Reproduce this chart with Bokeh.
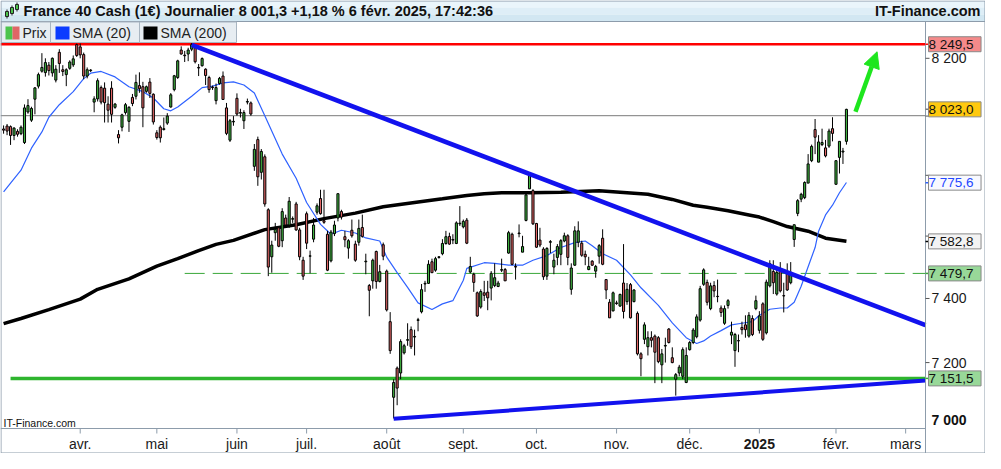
import math
import pandas as pd
from bokeh.plotting import figure
from bokeh.models import (Range1d, Label, BoxAnnotation, Arrow, NormalHead, ColumnDataSource)
from bokeh.embed import file_html
from bokeh.resources import INLINE

# ---------------------------------------------------------------- data
first_day = "2024-02-29"
last_day = "2025-02-06"
closed_days = ["2024-12-25", "2024-12-26", "2025-01-01"]

opens = [7956, 7966, 7964, 7934, 7948, 7940, 7910, 8014, 7986, 8058,
         8103, 8155, 8150, 8176, 8149, 8124, 8221, 8160, 8143, 8165,
         8177, 8248, 8240, 8213, 8138, 8157, 8048, 8059, 8098, 8096,
         8041, 8096, 8030, 7937, 7962, 8012, 7982, 8064, 8068, 8105,
         8101, 8085, 8117, 8075, 7943, 7962, 7954, 7976, 8031, 8091,
         8133, 8229, 8211, 8215, 8232, 8237, 8168, 8174, 8162, 8133,
         8100, 8053, 8112, 8138, 8028, 7918, 7980,
         8061, 8010, 7984, 8048, 8045,
         7830, 7920, 7810, 7862, 7686, 7533, 7611, 7627, 7585, 7659,
         7636, 7655, 7705, 7620, 7522, 7673, 7535, 7590, 7678, 7723,
         7650, 7606, 7520, 7608, 7659, 7680, 7598, 7561, 7619, 7574,
         7580, 7628, 7517, 7441, 7456, 7550, 7454, 7572, 7487, 7327,
         7094, 7183, 7168, 7230, 7269, 7302, 7279, 7331, 7358, 7446,
         7448, 7517, 7490, 7531, 7543, 7576, 7599, 7587, 7576, 7640,
         7630, 7652,
         7484, 7477, 7418, 7373, 7418, 7420, 7433, 7441, 7438, 7490,
         7492, 7545, 7606, 7502, 7608, 7548, 7651, 7755, 7749, 7641,
         7587, 7558, 7471, 7580, 7500, 7531, 7541, 7584, 7601, 7429,
         7506, 7580, 7577, 7541, 7492, 7519, 7487, 7535, 7593, 7460,
         7388, 7361, 7384, 7376, 7449, 7390, 7444, 7390, 7353, 7227,
         7272, 7249, 7277, 7282, 7277, 7193, 7251, 7304, 7215, 7149,
         7168, 7158, 7139, 7240, 7262, 7280,
         7332, 7445, 7451, 7368, 7441, 7407, 7370, 7322, 7378, 7285,
         7237, 7267, 7309, 7317, 7282, 7337, 7368, 7300, 7383, 7292,
         7440, 7486, 7414, 7491, 7409, 7483, 7450, 7589, 7674, 7721,
         7726, 7774, 7849, 7954, 7844, 7903, 7892, 7898, 7957, 7770,
         7860, 7878, 7914]
highs = [7968, 7973, 7968, 7962, 7955, 7968, 8040, 8058, 8032, 8100,
         8150, 8218, 8200, 8187, 8203, 8176, 8232, 8176, 8165, 8193,
         8210, 8252, 8252, 8220, 8168, 8162, 8068, 8130, 8105, 8116,
         8068, 8120, 8045, 7952, 8008, 8045, 8034, 8076, 8143, 8151,
         8118, 8105, 8131, 8078, 7952, 7968, 7995, 8010, 8079, 8142,
         8195, 8242, 8226, 8237, 8258, 8240, 8180, 8203, 8165, 8139,
         8105, 8112, 8135, 8154, 8045, 7990, 8000,
         8078, 8025, 8020, 8060, 8050,
         7905, 7930, 7888, 7870, 7691, 7585, 7643, 7632, 7691, 7670,
         7728, 7664, 7712, 7627, 7533, 7680, 7553, 7659, 7707, 7752,
         7752, 7617, 7620, 7650, 7739, 7686, 7617, 7590, 7654, 7585,
         7654, 7670, 7543, 7446, 7527, 7553, 7507, 7579, 7492, 7357,
         7149, 7188, 7272, 7258, 7322, 7312, 7302, 7339, 7446, 7456,
         7522, 7527, 7533, 7535, 7590, 7617, 7611, 7606, 7648, 7698,
         7654, 7659,
         7533, 7482, 7422, 7429, 7456, 7456, 7487, 7512, 7456, 7527,
         7497, 7617, 7611, 7512, 7638, 7601, 7739, 7808, 7754, 7643,
         7627, 7564, 7564, 7587, 7543, 7574, 7590, 7611, 7606, 7512,
         7632, 7648, 7585, 7553, 7533, 7522, 7507, 7574, 7622, 7460,
         7398, 7422, 7393, 7415, 7574, 7449, 7449, 7429, 7359, 7232,
         7325, 7297, 7297, 7287, 7282, 7242, 7277, 7307, 7247, 7168,
         7193, 7247, 7247, 7267, 7307, 7350,
         7440, 7496, 7460, 7450, 7455, 7460, 7378, 7378, 7398, 7327,
         7292, 7287, 7327, 7347, 7357, 7347, 7409, 7360, 7388, 7460,
         7522, 7522, 7491, 7516, 7450, 7512, 7516, 7637, 7721, 7742,
         7780, 7871, 7903, 7990, 7935, 7957, 7919, 7957, 7996, 7849,
         7914, 7892, 8025]
lows = [7940, 7935, 7902, 7918, 7930, 7935, 7905, 8008, 7980, 8006,
        8095, 8150, 8136, 8140, 8136, 8116, 8149, 8138, 8103, 8160,
        8170, 8205, 8200, 8127, 8130, 8152, 8013, 8050, 8040, 7978,
        7978, 7978, 8025, 7907, 7948, 8005, 7946, 8034, 8057, 8080,
        7962, 8080, 8062, 7971, 7920, 7910, 7951, 7970, 8029, 8085,
        8128, 8213, 8187, 8190, 8225, 8182, 8138, 8171, 8107, 8080,
        8090, 8040, 8108, 8056, 7935, 7912, 7967,
        8001, 7995, 7956, 8040, 8001,
        7815, 7765, 7786, 7696, 7471, 7482, 7585, 7564, 7564, 7627,
        7627, 7643, 7617, 7522, 7459, 7558, 7480, 7580, 7670, 7670,
        7640, 7487, 7515, 7600, 7648, 7654, 7564, 7527, 7595, 7517,
        7569, 7595, 7477, 7344, 7431, 7431, 7451, 7522, 7359, 7227,
        7030, 7070, 7149, 7225, 7252, 7242, 7222, 7297, 7353, 7421,
        7446, 7482, 7485, 7527, 7538, 7572, 7572, 7574, 7574, 7633,
        7625, 7574,
        7480, 7421, 7342, 7368, 7392, 7363, 7394, 7436, 7436, 7484,
        7456, 7543, 7506, 7460, 7596, 7548, 7648, 7755, 7636, 7562,
        7564, 7459, 7459, 7545, 7477, 7506, 7506, 7580, 7506, 7412,
        7504, 7564, 7533, 7506, 7490, 7504, 7466, 7511, 7506, 7398,
        7339, 7359, 7380, 7374, 7337, 7380, 7337, 7388, 7222, 7158,
        7257, 7222, 7247, 7137, 7198, 7137, 7200, 7259, 7198, 7099,
        7158, 7149, 7137, 7237, 7257, 7275,
        7327, 7440, 7378, 7363, 7404, 7388, 7342, 7317, 7368, 7257,
        7187, 7232, 7287, 7277, 7277, 7282, 7363, 7290, 7267, 7287,
        7435, 7414, 7409, 7419, 7356, 7424, 7445, 7565, 7665, 7711,
        7721, 7774, 7844, 7871, 7844, 7898, 7860, 7892, 7914, 7770,
        7806, 7838, 7903]
closes = [7952, 7949, 7934, 7959, 7938, 7962, 8028, 8036, 8026, 8097,
          8143, 8168, 8185, 8157, 8200, 8162, 8182, 8154, 8160, 8187,
          8198, 8210, 8212, 8138, 8160, 8159, 8059, 8122, 8048, 8046,
          8020, 8006, 8041, 7926, 8004, 8039, 8030, 8043, 8116, 8094,
          8028, 8101, 8078, 7980, 7927, 7926, 7957, 8000, 8073, 8139,
          8191, 8215, 8209, 8229, 8248, 8188, 8166, 8199, 8140, 8091,
          8098, 8098, 8130, 8057, 7941, 7984, 7982,
          8007, 8012, 8012, 8050, 8007,
          7887, 7795, 7880, 7705, 7500, 7571, 7622, 7567, 7680, 7636,
          7714, 7657, 7620, 7533, 7471, 7577, 7536, 7636, 7699, 7673,
          7645, 7490, 7613, 7636, 7739, 7662, 7588, 7585, 7601, 7522,
          7625, 7599, 7519, 7426, 7522, 7454, 7485, 7535, 7364, 7237,
          7139, 7122, 7265, 7252, 7271, 7249, 7281, 7333, 7428, 7448,
          7509, 7482, 7527, 7533, 7576, 7598, 7574, 7589, 7643, 7642,
          7648, 7577,
          7502, 7451, 7345, 7422, 7410, 7402, 7480, 7466, 7449, 7492,
          7456, 7611, 7509, 7500, 7610, 7566, 7735, 7802, 7640, 7564,
          7571, 7469, 7560, 7582, 7522, 7566, 7585, 7601, 7531, 7497,
          7617, 7617, 7538, 7533, 7502, 7506, 7502, 7569, 7509, 7427,
          7339, 7418, 7386, 7413, 7359, 7429, 7339, 7427, 7227, 7212,
          7317, 7277, 7269, 7232, 7203, 7227, 7253, 7262, 7200, 7163,
          7186, 7240, 7222, 7262, 7301, 7342,
          7431, 7491, 7388, 7440, 7424, 7406, 7356, 7368, 7393, 7294,
          7287, 7268, 7302, 7302, 7347, 7287, 7393, 7345, 7272, 7452,
          7511, 7450, 7483, 7424, 7408, 7427, 7483, 7637, 7716, 7737,
          7776, 7838, 7897, 7928, 7912, 7910, 7865, 7949, 7941, 7849,
          7914, 7881, 8023]

# moving averages (trading-day number from 1 Apr 2024, value)
sma20_day = [-22, -20, -17, -14, -11, -9, -6, -2, 1, 3, 6, 10, 14, 18, 21, 24, 26, 28,
             32, 35, 38, 41, 44, 47, 50, 53, 58, 62, 65, 69, 72, 75, 79, 82, 86, 88,
             91, 94, 97, 101, 104, 107, 110, 111, 116, 119, 123, 127, 130, 134, 138,
             142, 145, 147, 150, 154, 158, 161, 166, 170, 174, 177, 179, 181, 184,
             187, 190, 193, 195, 198, 201, 203, 205, 207, 209, 211, 212, 214, 216,
             218, 220]
sma20 = [7745, 7774, 7817, 7891, 7946, 7996, 8039, 8084, 8129, 8148, 8154, 8135,
         8101, 8084, 8062, 8025, 8018, 8031, 8068, 8098, 8103, 8114, 8118, 8107,
         8079, 8001, 7871, 7790, 7710, 7638, 7606, 7619, 7610, 7594, 7584, 7532,
         7482, 7435, 7386, 7365, 7383, 7393, 7458, 7496, 7514, 7512, 7506, 7506,
         7522, 7537, 7563, 7579, 7584, 7569, 7543, 7522, 7475, 7434, 7378, 7323,
         7277, 7259, 7267, 7282, 7299, 7317, 7322, 7327, 7347, 7366, 7370, 7370,
         7388, 7439, 7501, 7563, 7616, 7669, 7701, 7742, 7776]
sma200_day = [-22, -17, -9, 0, 5, 14, 22, 28, 34, 39, 44, 53, 62, 70, 79, 87, 96,
              104, 111, 116, 121, 129, 138, 149, 155, 163, 170, 176, 180, 186, 192,
              195, 199, 203, 209, 214, 220]
sma200 = [7321, 7337, 7365, 7398, 7429, 7462, 7503, 7527, 7553, 7573, 7586, 7621,
          7637, 7657, 7675, 7696, 7710, 7722, 7733, 7739, 7742, 7742, 7744, 7749,
          7744, 7737, 7720, 7701, 7694, 7683, 7669, 7662, 7647, 7631, 7616, 7593,
          7583]

month_starts = ["2024-04-01", "2024-05-01", "2024-06-03", "2024-07-01", "2024-08-01",
                "2024-09-02", "2024-10-01", "2024-11-01", "2024-12-02", "2025-01-02",
                "2025-02-03", "2025-03-03"]
month_labels = ["avr.", "mai", "juin", "juil.", "août", "sept.", "oct.", "nov.",
                "déc.", "2025", "févr.", "mars"]
y_ticks = [7200, 7400, 7600, 7800, 8000, 8200]
y_tick_labels = ["7 200", "7 400", "", "", "", "8 200"]
y_base_label = "7 000"

resistance = 8249.5
support = 7151.5
pivot = 7479.7
last_price = 8001.3
tag_values = [8249.5, 8023.0, 7775.6, 7582.8, 7479.7, 7151.5]
tag_texts = ["8 249,5", "8 023,0", "7 775,6", "7 582,8", "7 479,7", "7 151,5"]

down_days, down_prices = [32, 242.7], [8247, 7316]
up_days, up_prices = [90, 242.7], [7029, 7145]
pivot_from_day = 30
support_from_day = -20
arrow_days, arrow_prices = [222.6, 228.8], [8015, 8223]

title_text = "France 40 Cash (1€) Journalier 8 001,3 +1,18 % 6 févr. 2025, 17:42:36"
brand = "IT-Finance.com"
legend_texts = ["Prix", "SMA (20)", "SMA (200)"]

# ---------------------------------------------------------------- calendar
cal = [d for d in pd.bdate_range(first_day, "2025-03-31")
       if d.strftime("%Y-%m-%d") not in closed_days]
origin = cal.index(pd.Timestamp("2024-04-01"))
day_no = {d.strftime("%Y-%m-%d"): k - origin for k, d in enumerate(cal)}
candle_days = [day_no[d.strftime("%Y-%m-%d")] for d in cal if d <= pd.Timestamp(last_day)]
month_days = [day_no[s] for s in month_starts]

# ---------------------------------------------------------------- layout
W, H = 985, 453
PX0, PX1 = 1.0, 925.0          # plot area, canvas x
PY0, PY1 = 21.0, 428.0         # plot area, canvas y
D0, D1 = -22.6, 242.7          # trading days shown in the plot area
P_TOP, P_BOT = 8330.0, 7000.0  # price range of the plot area
kx = (PX1 - PX0) / (D1 - D0)
ky = (PY1 - PY0) / math.log(P_TOP / P_BOT)
x_lo, x_hi = D0 - PX0 / kx, D1 + (W - PX1) / kx
y_hi = P_TOP * math.exp(PY0 / ky)
y_lo = P_BOT * math.exp(-(H - PY1) / ky)


def price_at(cy):
    return P_TOP * math.exp(-(cy - PY0) / ky)


FONT = "Liberation Sans"
GREEN, RED = "#41b541", "#e06464"
FRAME = "#8d9cab"

p = figure(width=W, height=H, x_range=Range1d(x_lo, x_hi), y_range=Range1d(y_lo, y_hi),
           y_axis_type="log", x_axis_location=None, y_axis_location=None,
           output_backend="svg", toolbar_location=None, min_border=0)
p.grid.visible = False
p.outline_line_color = None
p.background_fill_color = "white"
p.border_fill_color = "white"

# horizontal reference lines
p.line([x_lo, D1], [last_price, last_price], line_color="#7a7a7a", line_width=1)
p.line([x_lo, D1], [resistance, resistance], line_color="#ff0000", line_width=2.5)
p.line([pivot_from_day, D1], [pivot, pivot], line_color="#3aa83a", line_width=1,
       line_dash="20 8")
p.line([support_from_day, D1], [support, support], line_color="#2eb52e", line_width=3.5)

# moving averages
p.line(sma200_day, sma200, line_color="black", line_width=3.5)
p.line(sma20_day, sma20, line_color="#2f62ff", line_width=1.2)

# candles
src = ColumnDataSource(dict(
    x=candle_days,
    top=[max(o, c) for o, c in zip(opens, closes)],
    bottom=[min(o, c) for o, c in zip(opens, closes)],
    high=highs, low=lows,
    color=[GREEN if c >= o else RED for o, c in zip(opens, closes)]))
p.segment(x0="x", y0="low", x1="x", y1="high", source=src, line_color="black", line_width=1)
p.vbar(x="x", width=0.6, top="top", bottom="bottom", source=src,
       fill_color="color", line_color="black", line_width=1)

# trend lines
p.line(down_days, down_prices, line_color="#1212ee", line_width=4.5)
p.line(up_days, up_prices, line_color="#1212ee", line_width=4)

p.add_layout(Arrow(x_start=arrow_days[0], y_start=arrow_prices[0], x_end=arrow_days[1],
                   y_end=arrow_prices[1], line_color="#1ee61e", line_width=4.5,
                   end=NormalHead(size=16, fill_color="#1ee61e", line_color="#1ee61e")))

# axes frame lines and ticks
p.line([D1, D1], [price_at(PY0), y_lo], line_color=FRAME, line_width=1)
p.line([x_lo, D1], [P_BOT, P_BOT], line_color=FRAME, line_width=1)
p.segment(x0=[D1] * len(y_ticks), x1=[D1 + 4 / kx] * len(y_ticks), y0=y_ticks, y1=y_ticks,
          line_color="#555555", line_width=1)
p.segment(x0=month_days, x1=month_days, y0=[P_BOT] * len(month_days),
          y1=[price_at(PY1 + 5)] * len(month_days), line_color=FRAME, line_width=1)
tag_line_colors = ["#ff0000", "#7a7a7a", "#2f62ff", "#000000", "#3aa83a", "#2eb52e"]
p.segment(x0=[D1] * len(tag_values), x1=[D1 + 3 / kx] * len(tag_values), y0=tag_values,
          y1=tag_values, line_color=tag_line_colors, line_width=1.5)


def cbox(l, r, t, b, fill, line=None, lw=1):
    return BoxAnnotation(left=l, right=r, top=t, bottom=b, left_units="canvas",
                         right_units="canvas", top_units="canvas", bottom_units="canvas",
                         fill_color=fill if fill else "white", fill_alpha=1 if fill else 0,
                         line_color=line, line_alpha=1, line_width=lw)


def lab(x, y, text, size="14px", bold=False, align="left", color="#111111",
        baseline="middle", xu="canvas", yu="canvas", **kw):
    return Label(x=x, y=y, x_units=xu, y_units=yu, text=text, text_font=FONT,
                 text_font_size=size, text_font_style="bold" if bold else "normal",
                 text_align=align, text_baseline=baseline, text_color=color, **kw)


# title bar
p.add_layout(cbox(0, W, 0, 7, "#eaf5fb"))
p.add_layout(cbox(0, W, 7, 14, "#deeef7"))
p.add_layout(cbox(0, W, 14, PY0, "#d2e7f2"))
p.add_layout(cbox(0, W, PY0 - 0.5, PY0 + 0.5, FRAME))
for (x0, t, b, wt, wb) in [(5, 11, 16, 9, 18), (10, 7, 13, 5, 15), (15, 4, 9, 2, 11)]:
    p.add_layout(cbox(x0 + 1, x0 + 2, wt, wb, "#222222"))
    p.add_layout(cbox(x0, x0 + 3, t, b, "#4cc44c", "#222222"))
p.add_layout(lab(23, 10.5, title_text, size="14.5px", bold=True))
p.add_layout(lab(W - 5, 10.5, brand, size="14.5px", bold=True, align="right"))

# legend
for l, r in [(0.5, 50), (50, 139), (139, 236)]:
    p.add_layout(cbox(l, r, PY0 + 0.5, 42, "#e7edf2", "#a8b5c1"))
p.add_layout(cbox(5, 12, 26, 39, "#4cc44c"))
p.add_layout(cbox(12, 19, 26, 39, "#e06666"))
p.add_layout(cbox(55, 69, 26, 39, "#0b3cff"))
p.add_layout(cbox(143, 157, 26, 39, "#000000"))
for x, t in zip([22, 72, 160], legend_texts):
    p.add_layout(lab(x, 32.5, t, color="#222222"))

# watermark
p.add_layout(lab(3, PY1 - 6, brand, size="10.5px"))

# x labels
for d, t in zip(month_days, month_labels):
    p.add_layout(lab(d, PY1 + 15, t, bold=(t == "2025"), align="center", xu="data",
                     color="#1a1a1a"))

# y labels
for v, t in zip(y_ticks, y_tick_labels):
    if t:
        p.add_layout(lab(PX1 + 6, v, t, yu="data", color="#1a1a1a"))
p.add_layout(lab(PX1 + 6, PY1 - 9, y_base_label, bold=True))

# price tags on the right scale
tag_styles = [("#f58a8a", "#111111"), ("#ffc90e", "#111111"), ("#f8f9ff", "#2448ff"),
              ("#f3f3f3", "#111111"), ("#98d898", "#111111"), ("#98d898", "#111111")]
for v, t, (bg, fg) in zip(tag_values, tag_texts, tag_styles):
    p.add_layout(lab(PX1 + 3, v, " " + t + " ", size="13.5px", color=fg, yu="data",
                     background_fill_color=bg, background_fill_alpha=1,
                     border_line_color="#8a8a8a", border_line_alpha=1))

# outer border
p.add_layout(cbox(0.5, W - 0.5, 0.5, H - 0.5, None, FRAME))

open("out.html", "w").write(file_html(p, INLINE))
